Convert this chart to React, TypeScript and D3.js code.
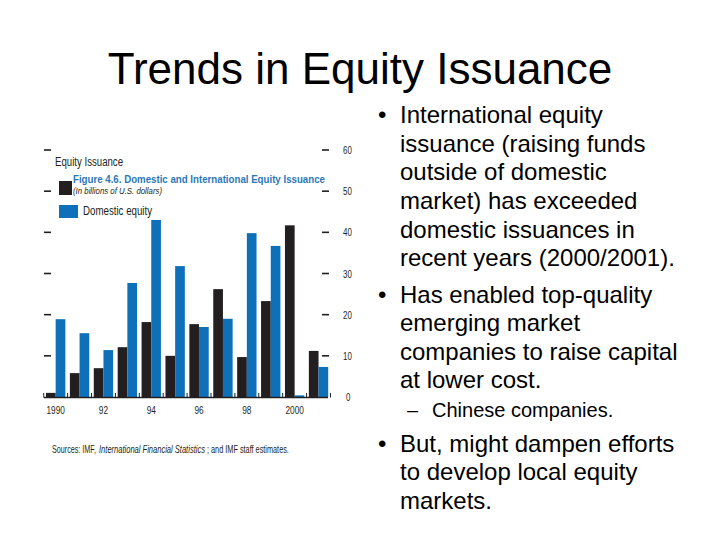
import React, { useLayoutEffect, useRef } from "react";
import * as d3 from "d3";

const years = ["1990","1991","1992","1993","1994","1995","1996","1997","1998","1999","2000","2001"];
const international = [1, 5.8, 7, 12.1, 18.2, 10, 17.7, 26.2, 9.7, 23.3, 41.7, 11.2];
const domestic = [18.9, 15.5, 11.4, 27.7, 43, 31.8, 17, 19, 39.8, 36.7, 0.4, 7.3];
const yTicks = [0, 10, 20, 30, 40, 50, 60];
const xLabels: Record<string, string> = { "1990": "1990", "1992": "92", "1994": "94", "1996": "96", "1998": "98", "2000": "2000" };
const seriesKeys = ["international", "domestic"];

const bulletLines = [
  { kind: "bullet", text: "International equity", y: 123 },
  { kind: "cont", text: "issuance (raising funds", y: 152 },
  { kind: "cont", text: "outside of domestic", y: 180 },
  { kind: "cont", text: "market) has exceeded", y: 209 },
  { kind: "cont", text: "domestic issuances in", y: 238 },
  { kind: "cont", text: "recent years (2000/2001).", y: 266 },
  { kind: "bullet", text: "Has enabled top-quality", y: 303 },
  { kind: "cont", text: "emerging market", y: 331 },
  { kind: "cont", text: "companies to raise capital", y: 360 },
  { kind: "cont", text: "at lower cost.", y: 388 },
  { kind: "sub", text: "Chinese companies.", y: 417 },
  { kind: "bullet", text: "But, might dampen efforts", y: 452 },
  { kind: "cont", text: "to develop local equity", y: 480 },
  { kind: "cont", text: "markets.", y: 509 },
];

const BLUE = "#0d70b8";
const BLACK = "#231f20";
const ARIAL = "'Liberation Sans', Arial, sans-serif";

type FitProps = {
  x: number; y: number; width?: number; scale?: number; size: number;
  anchor?: "start" | "middle" | "end"; weight?: string; italic?: boolean; fill?: string; children: string;
};

function FitText({ x, y, width, scale, size, anchor = "start", weight, italic, fill = BLACK, children }: FitProps) {
  const ref = useRef<SVGTextElement>(null);
  useLayoutEffect(() => {
    const el = ref.current;
    if (!el) return;
    let sx = scale ?? 1;
    if (width) {
      const w = el.getComputedTextLength();
      if (w > 0) sx = width / w;
    }
    el.setAttribute("transform", `translate(${x},${y}) scale(${sx},1)`);
  }, [x, y, width, scale, children]);
  return (
    <text ref={ref} x={0} y={0} transform={`translate(${x},${y}) scale(${scale ?? 0.75},1)`}
      textAnchor={anchor} fontFamily={ARIAL} fontSize={size} fontWeight={weight}
      fontStyle={italic ? "italic" : undefined} fill={fill}>{children}</text>
  );
}

export default function App() {
  const x0 = d3.scaleBand<string>().domain(years).range([43.6, 330.6]).paddingInner(0.19).paddingOuter(0.1);
  const x1 = d3.scaleBand<string>().domain(seriesKeys).range([0, x0.bandwidth()]);
  const y = d3.scaleLinear().domain([0, 60]).range([397, 150]);
  const gap = x0.step() - x0.bandwidth();

  return (
    <svg width={720} height={540} style={{ position: "absolute", left: 0, top: 0, background: "#fff" }}>
      <rect x={0} y={0} width={720} height={540} fill="#fff" />
      <text x={360} y={84} textAnchor="middle" fontFamily={ARIAL} fontSize={44} fill="#000">
        Trends in Equity Issuance
      </text>

      {yTicks.filter(t => t > 0).map(t => (
        <g key={"lt" + t}>
          <line x1={44} x2={51} y1={y(t)} y2={y(t)} stroke={BLACK} strokeWidth={1.6} />
          <line x1={322} x2={329} y1={y(t)} y2={y(t)} stroke={BLACK} strokeWidth={1.6} />
        </g>
      ))}
      {yTicks.map(t => (
        <FitText key={"yl" + t} x={t === 0 ? 346 : 343} y={y(t) + 4} size={11} scale={0.72}>{String(t)}</FitText>
      ))}

      {years.map((yr, i) => (
        <g key={yr}>
          <rect x={x0(yr)! + x1("international")!} y={y(international[i])} width={x1.bandwidth()}
            height={y(0) - y(international[i])} fill={BLACK} />
          <rect x={x0(yr)! + x1("domestic")!} y={y(domestic[i])} width={x1.bandwidth()}
            height={y(0) - y(domestic[i])} fill={BLUE} />
        </g>
      ))}

      <line x1={44} x2={328} y1={397.5} y2={397.5} stroke={BLACK} strokeWidth={1.5} />
      {years.map((yr) => (
        <line key={"bt" + yr} x1={x0(yr)! - gap / 2} x2={x0(yr)! - gap / 2} y1={397.5} y2={393}
          stroke={BLACK} strokeWidth={1} />
      ))}
      <line x1={x0("2001")! + x0.bandwidth() + gap / 2} x2={x0("2001")! + x0.bandwidth() + gap / 2} y1={397.5} y2={393} stroke={BLACK} strokeWidth={1} />

      {years.filter(yr => xLabels[yr]).map(yr => (
        <FitText key={"xl" + yr} x={x0(yr)! + x0.bandwidth() / 2} y={414} size={11.5} scale={0.72} anchor="middle">{xLabels[yr]}</FitText>
      ))}

      <FitText x={55} y={166} size={12.5} width={68}>Equity Issuance</FitText>
      <FitText x={73} y={183} size={11.5} width={252} weight="bold" fill="#2b78b8">Figure 4.6. Domestic and International Equity Issuance</FitText>
      <FitText x={73} y={193.5} size={9.5} width={89} italic>(In billions of U.S. dollars)</FitText>
      <rect x={59} y={181} width={13} height={14} fill={BLACK} />
      <rect x={59} y={205} width={19} height={13} fill={BLUE} />
      <FitText x={83} y={215} size={12.5} width={69}>Domestic equity</FitText>

      <FitText x={52} y={453} size={11} width={44}>Sources: IMF,</FitText>
      <FitText x={99} y={453} size={11} width={106} italic>International Financial Statistics</FitText>
      <FitText x={207} y={453} size={11} width={82}>; and IMF staff estimates.</FitText>

      {bulletLines.map((l, i) => (
        <g key={"b" + i}>
          {l.kind === "bullet" && (
            <text x={378} y={l.y} fontFamily={ARIAL} fontSize={24} fill="#000">•</text>
          )}
          {l.kind === "sub" && (
            <text x={407} y={l.y} fontFamily={ARIAL} fontSize={20} fill="#000">–</text>
          )}
          <text x={l.kind === "sub" ? 432 : 400} y={l.y} fontFamily={ARIAL} fontSize={l.kind === "sub" ? 20 : 24} fill="#000">
            {l.text}
          </text>
        </g>
      ))}
    </svg>
  );
}
